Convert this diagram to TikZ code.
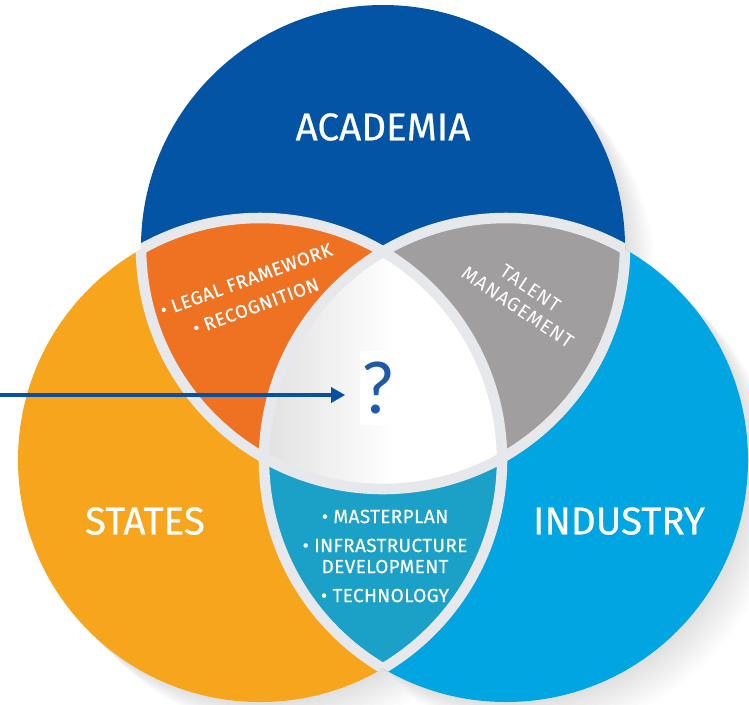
\documentclass[tikz,border=0pt]{standalone}
\usepackage{fontspec}
\setmainfont{Fira Sans}
\newfontfamily\medfont{Fira Sans}[FakeBold=0.5]
\newfontfamily\calfont{Carlito}
\usetikzlibrary{arrows.meta}

\definecolor{acadblue}{RGB}{3,84,164}
\definecolor{stateyellow}{RGB}{247,165,29}
\definecolor{indusblue}{RGB}{0,165,226}
\definecolor{legalorange}{RGB}{239,113,34}
\definecolor{talentgray}{RGB}{160,158,159}
\definecolor{techteal}{RGB}{27,160,200}
\definecolor{gapgray}{RGB}{231,232,235}
\definecolor{qblue}{RGB}{30,90,168}
\definecolor{arrowblue}{RGB}{10,80,160}

\tikzset{
  bigword/.style={text=white, font=\medfont\fontsize{22}{24}\selectfont},
  smallword/.style={text=white, align=center},
  gapline/.style={draw=gapgray, line width=6pt},
}

\begin{document}
\begin{tikzpicture}[x=0.02cm, y=-0.02cm]
  \useasboundingbox (0,0) rectangle (749,704);

  %%% centres of the three circles %%%
  \coordinate (acad) at (383,247);
  \coordinate (stat) at (260,460);
  \coordinate (indu) at (506,460);
  \def\rad{242}

  %%% soft shadow to the lower right %%%
  \foreach \d in {3,6,...,30} {
    \fill[black, opacity=0.012]
      ([shift={(\d,\d)}]acad) circle (\rad)
      ([shift={(\d,\d)}]stat) circle (\rad)
      ([shift={(\d,\d)}]indu) circle (\rad);
  }

  %%% the three circles %%%
  \fill[acadblue] (acad) circle (\rad);
  \fill[stateyellow] (stat) circle (\rad);
  \fill[indusblue] (indu) circle (\rad);

  %%% overlaps of two %%%
  \begin{scope}
    \clip (acad) circle (\rad);
    \fill[legalorange] (stat) circle (\rad);
    \fill[talentgray] (indu) circle (\rad);
  \end{scope}
  \begin{scope}
    \clip (stat) circle (\rad);
    \fill[techteal] (indu) circle (\rad);
  \end{scope}

  %%% overlap of all three %%%
  \begin{scope}
    \clip (acad) circle (\rad);
    \clip (stat) circle (\rad);
    \clip (indu) circle (\rad);
    \fill[white] (250,240) rectangle (515,500);
    \shade[left color=black!13, right color=white] (250,240) rectangle (395,500);
  \end{scope}

  %%% gaps between the parts %%%
  \begin{scope}
    \clip (stat) circle (\rad) (indu) circle (\rad);
    \draw[gapline] (acad) circle (\rad);
  \end{scope}
  \begin{scope}
    \clip (acad) circle (\rad) (indu) circle (\rad);
    \draw[gapline] (stat) circle (\rad);
  \end{scope}
  \begin{scope}
    \clip (acad) circle (\rad) (stat) circle (\rad);
    \draw[gapline] (indu) circle (\rad);
  \end{scope}

  %%% labels %%%
  \node (academia) at (383,127) [bigword] {ACADEMIA};
  \node (states) at (145,521) [bigword] {STATES};
  \node (industry) at (619,521) [bigword] {INDUSTRY};

  \node (legal) at (251,293) [smallword, rotate=20,
    font=\medfont\fontsize{10.5}{13}\selectfont\addfontfeatures{LetterSpace=4}]
    {\textbullet\ LEGAL FRAMEWORK\\[3pt]\textbullet\ RECOGNITION};
  \node (talent) at (524,298) [smallword, rotate=-34,
    font=\fontsize{11}{13}\selectfont\addfontfeatures{LetterSpace=5}]
    {TALENT\\MANAGEMENT};
  \node (tech) at (385,556) [smallword,
    font=\medfont\fontsize{10.8}{12}\selectfont\addfontfeatures{LetterSpace=2}]
    {\textbullet\ MASTERPLAN\\[4.5pt]\textbullet\ INFRASTRUCTURE\\DEVELOPMENT\\[4.5pt]\textbullet\ TECHNOLOGY};

  %%% question and arrow %%%
  \node (quest) at (378,388) [fill=white, text=qblue, inner sep=0pt,
    minimum width=20pt, minimum height=42pt,
    font=\calfont\fontsize{43}{43}\selectfont] {?};
  \coordinate (arrowtail) at (0,395);
  \draw[arrowblue, line width=2.3pt, shorten >=8.5pt,
    -{Triangle[length=8pt, width=8.5pt]}]
    (arrowtail) -- (quest.west |- arrowtail);

\end{tikzpicture}
\end{document}
